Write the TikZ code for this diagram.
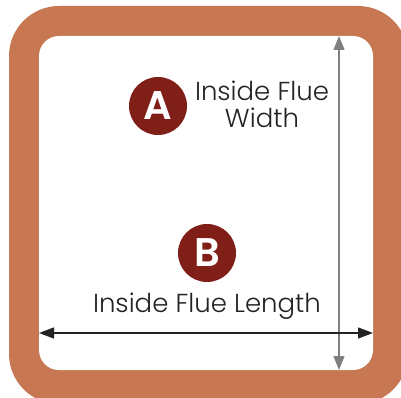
\documentclass[tikz,border=0pt]{standalone}
\usepackage{fontspec}
\setmainfont{Poppins Light}
\newfontfamily\boldf{Poppins SemiBold}
\usetikzlibrary{arrows.meta}
\definecolor{brick}{RGB}{199,120,83}
\definecolor{badge}{RGB}{128,30,24}
\definecolor{dimgray}{RGB}{128,128,130}
\definecolor{dimdark}{RGB}{35,35,35}
\tikzset{
  badgestyle/.style={circle,fill=badge,minimum size=58pt,inner sep=0pt,text=white,font=\boldf\fontsize{40}{40}\selectfont},
  labelstyle/.style={text=dimdark,font=\fontsize{26}{26}\selectfont,align=center,inner sep=0pt},
}
\begin{document}
\begin{tikzpicture}[x=1pt,y=-1pt]
\useasboundingbox (0,0) rectangle (401,398);
\begin{scope}
\clip (0,0) rectangle (401,398);
\fill[brick,rounded corners=50pt] (9,6) rectangle (408,404);
\end{scope}
\fill[white,rounded corners=20pt] (39,36) rectangle (373,370);
\coordinate (L) at (39,333);
\coordinate (R) at (373,333);
\coordinate (T) at (339,36);
\coordinate (Bt) at (339,370);
\draw[dimgray,line width=1.3pt,{Triangle[length=14pt,width=11pt]}-{Triangle[length=14pt,width=11pt]}] (T) -- (Bt);
\draw[dimdark,line width=1.3pt,{Triangle[length=15pt,width=11pt]}-{Triangle[length=15pt,width=11pt]}] (L) -- (R);
\node[badgestyle] (A) at (158,106) {A};
\node[badgestyle] (B) at (207,253) {B};
\node[labelstyle,anchor=base] (wa) at (262,101) {Inside Flue};
\node[labelstyle,anchor=base] (wb) at (262,128) {Width};
\node[labelstyle,anchor=base] (la) at (207,312) {Inside Flue Length};
\end{tikzpicture}
\end{document}
